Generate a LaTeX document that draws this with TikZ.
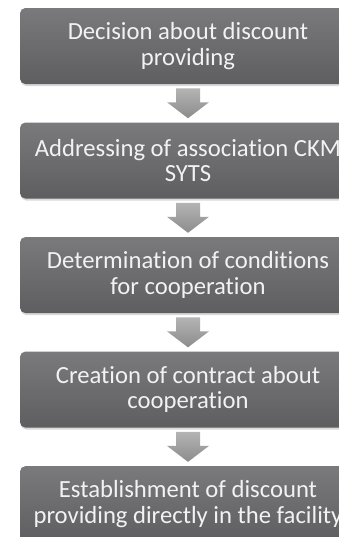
\documentclass[tikz,border=0pt]{standalone}
\usepackage{fontspec}
\setmainfont{Carlito}[RawFeature=-liga]
\usetikzlibrary{positioning,calc,shadows}

\definecolor{boxtop}{HTML}{7A7A7D}
\definecolor{boxbottom}{HTML}{5E5E61}
\definecolor{arrtop}{HTML}{B4B4B4}
\definecolor{arrbottom}{HTML}{8C8C8C}
\definecolor{boxtext}{HTML}{F2F2F2}

% block arrow from the bottom of one step to the top of the next
\newcommand\flowarrow[2]{%
  \shade[top color=arrtop, bottom color=arrbottom]
    ($(#1.south)+(-9pt,-3pt)$) -- ($(#1.south)+(9pt,-3pt)$)
    -- ($(#1.south)+(9pt,-13.5pt)$) -- ($(#1.south)+(15.75pt,-13.5pt)$)
    -- ($(#2.north)+(0,3pt)$)
    -- ($(#1.south)+(-15.75pt,-13.5pt)$) -- ($(#1.south)+(-9pt,-13.5pt)$)
    -- cycle;}

\begin{document}
\begin{tikzpicture}[node distance=28.5pt,
  stepbox/.style={rectangle, rounded corners=4pt,
    minimum width=252pt, minimum height=57pt, inner sep=2pt,
    top color=boxtop, bottom color=boxbottom, text=boxtext,
    align=center, font=\fontsize{18.5}{19}\selectfont,
    drop shadow={shadow xshift=0.6pt, shadow yshift=-1.5pt, opacity=0.3}}]

  \clip (0,0) rectangle (254.25pt,-402.75pt);

  \node[stepbox] (decision) at (141pt,-34.5pt) {Decision about discount\\providing};
  \node[stepbox, below=of decision] (address) {Addressing of association CKM\\SYTS};
  \node[stepbox, below=of address] (conditions) {Determination of conditions\\for cooperation};
  \node[stepbox, below=of conditions] (contract) {Creation of contract about\\cooperation};
  \node[stepbox, below=of contract] (establish) {Establishment of discount\\providing directly in the facility};

  \flowarrow{decision}{address}
  \flowarrow{address}{conditions}
  \flowarrow{conditions}{contract}
  \flowarrow{contract}{establish}
\end{tikzpicture}
\end{document}
